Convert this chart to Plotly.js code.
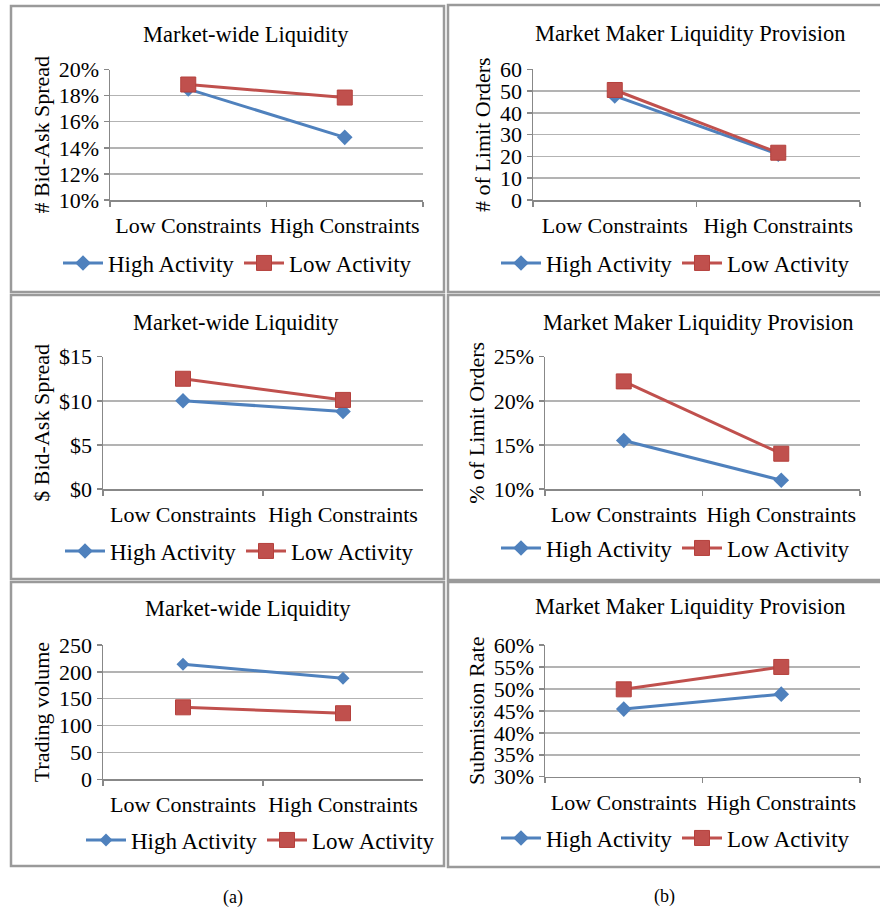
<!DOCTYPE html>
<html>
<head>
<meta charset="utf-8">
<script src="https://cdn.plot.ly/plotly-3.0.1.min.js"></script>
<style>html,body{margin:0;padding:0;background:#fff;}#chart{width:880px;height:911px;}</style>
</head>
<body>
<div id="chart"></div>
<script>
// ---- data ----
const categories = ["Low Constraints", "High Constraints"];
const seriesNames = ["High Activity", "Low Activity"];

const titles = ["Market-wide Liquidity", "Market Maker Liquidity Provision",
                "Market-wide Liquidity", "Market Maker Liquidity Provision",
                "Market-wide Liquidity", "Market Maker Liquidity Provision"];
const yTitles = ["# Bid-Ask Spread", "# of Limit Orders", "$ Bid-Ask Spread",
                 "% of Limit Orders", "Trading volume", "Submission Rate"];

// panel 1: # bid-ask spread (%)
const spreadPctHigh = [18.5, 14.8];
const spreadPctLow  = [18.85, 17.85];
// panel 2: # of limit orders
const limitOrdersHigh = [47.8, 21];
const limitOrdersLow  = [50.5, 21.7];
// panel 3: $ bid-ask spread
const spreadDollarHigh = [10.0, 8.8];
const spreadDollarLow  = [12.5, 10.1];
// panel 4: % of limit orders
const limitPctHigh = [15.5, 11.0];
const limitPctLow  = [22.2, 14.0];
// panel 5: trading volume
const volumeHigh = [214, 188];
const volumeLow  = [134, 123];
// panel 6: submission rate (%)
const submitHigh = [45.4, 48.8];
const submitLow  = [49.9, 55.0];

const yTickVals = [
  [10, 12, 14, 16, 18, 20],
  [0, 10, 20, 30, 40, 50, 60],
  [0, 5, 10, 15],
  [10, 15, 20, 25],
  [0, 50, 100, 150, 200, 250],
  [30, 35, 40, 45, 50, 55, 60]
];
const yPrefix = ["", "", "$", "", "", ""];
const ySuffix = ["%", "", "", "%", "", "%"];
const panelLabels = ["(a)", "(b)"];

const highSeries = [spreadPctHigh, limitOrdersHigh, spreadDollarHigh, limitPctHigh, volumeHigh, submitHigh];
const lowSeries  = [spreadPctLow, limitOrdersLow, spreadDollarLow, limitPctLow, volumeLow, submitLow];

// ---- layout geometry (pixels) ----
const W = 880, H = 911;
const plotBoxes = [ // x0, x1, y0(top), y1(bottom)
  [110, 423, 69.5, 200],
  [533, 860, 69.3, 200],
  [103, 423, 356.7, 489],
  [545, 860, 356.7, 489],
  [103, 423, 645, 779.3],
  [545, 860, 645, 776.7]
];
const frames = [
  [11, 444, 6, 292], [448, 884, 5, 292],
  [11, 444, 295, 579], [448, 884, 295, 580],
  [11, 444, 582, 866], [448, 884, 582, 867]
];
const titlePos = [[246, 35], [690, 33], [236, 323], [698, 322], [248, 608], [690, 606]];
const legendPos = [[58, 263], [496, 263], [60, 551], [496, 548], [81, 840], [496, 838]];

const px = x => x / W;
const py = y => 1 - y / H;

const BLUE = "#4F81BD", RED = "#C0504D";
const FONT = "Liberation Serif";

const traces = [];
const layout = {
  width: W, height: H,
  margin: {l: 0, r: 0, t: 0, b: 0},
  paper_bgcolor: "#fff", plot_bgcolor: "#fff",
  font: {family: FONT, size: 22, color: "#000"},
  showlegend: true,
  shapes: [], annotations: []
};

for (let i = 0; i < 6; i++) {
  const n = i === 0 ? "" : String(i + 1);
  const xa = "x" + n, ya = "y" + n;
  const lg = i === 0 ? "legend" : "legend" + (i + 1);
  const small = (i === 4);
  traces.push({
    type: "scatter", mode: "lines+markers", name: seriesNames[0],
    x: categories, y: highSeries[i], xaxis: xa, yaxis: ya, legend: lg,
    line: {color: BLUE, width: 3},
    marker: {symbol: "diamond", size: small ? 10 : 12, color: BLUE, line: {width: 0}},
    hoverinfo: "skip"
  });
  traces.push({
    type: "scatter", mode: "lines+markers", name: seriesNames[1],
    x: categories, y: lowSeries[i], xaxis: xa, yaxis: ya, legend: lg,
    line: {color: RED, width: 3},
    marker: {symbol: "square", size: 15, color: RED, line: {width: 1, color: "#B5403C"}},
    hoverinfo: "skip"
  });
  const b = plotBoxes[i];
  const tv = yTickVals[i];
  layout["xaxis" + n] = {
    domain: [px(b[0]), px(b[1])], anchor: ya,
    type: "category", range: [-0.5, 1.5], tickson: "boundaries", tickangle: 0,
    ticks: "outside", ticklen: 5, tickcolor: "#888", tickwidth: 1.5,
    showline: true, linecolor: "#888", linewidth: 1.5, showgrid: false, zeroline: false,
    tickfont: {size: 22, family: FONT, color: "#000"},
    ticklabelstandoff: 5, fixedrange: true
  };
  layout["yaxis" + n] = {
    domain: [py(b[3]), py(b[2])], anchor: xa,
    range: [tv[0], tv[tv.length - 1]], tickmode: "array", tickvals: tv,
    ticktext: tv.map(v => yPrefix[i] + v + ySuffix[i]),
    ticks: "outside", ticklen: 5, tickcolor: "#888", tickwidth: 1.5,
    showline: true, linecolor: "#888", linewidth: 1.5,
    showgrid: true, gridcolor: "#B3B3B3", gridwidth: 1.5, zeroline: false,
    tickfont: {size: 22, family: FONT, color: "#000"},
    ticklabelstandoff: 0,
    title: {text: yTitles[i], font: {size: 22, family: FONT, color: "#000"}, standoff: 3},
    fixedrange: true
  };
  const lp = legendPos[i];
  layout[lg] = {
    orientation: "h", x: px(lp[0]), y: py(lp[1]), xanchor: "left", yanchor: "middle",
    xref: "paper", yref: "paper", itemwidth: 40, entrywidth: 126, entrywidthmode: "pixels",
    font: {size: 23, family: FONT, color: "#000"}, bgcolor: "rgba(0,0,0,0)",
    itemclick: false, itemdoubleclick: false
  };
  const tp = titlePos[i];
  layout.annotations.push({
    text: titles[i], xref: "paper", yref: "paper", x: px(tp[0]), y: py(tp[1]),
    xanchor: "center", yanchor: "middle", showarrow: false,
    font: {size: 22.5, family: FONT, color: "#000"}
  });
  const f = frames[i];
  layout.shapes.push({
    type: "rect", xref: "paper", yref: "paper",
    x0: px(f[0]), x1: px(f[1]), y0: py(f[3]), y1: py(f[2]),
    line: {color: "#9A9A9A", width: 2.5}, fillcolor: "rgba(0,0,0,0)", layer: "below"
  });
}
layout.annotations.push({text: panelLabels[0], xref: "paper", yref: "paper", x: px(233), y: py(897),
  xanchor: "center", yanchor: "middle", showarrow: false, font: {size: 18, family: FONT, color: "#000"}});
layout.annotations.push({text: panelLabels[1], xref: "paper", yref: "paper", x: px(664), y: py(896),
  xanchor: "center", yanchor: "middle", showarrow: false, font: {size: 18, family: FONT, color: "#000"}});

Plotly.newPlot("chart", traces, layout, {displayModeBar: false, staticPlot: true});
</script>
</body>
</html>
